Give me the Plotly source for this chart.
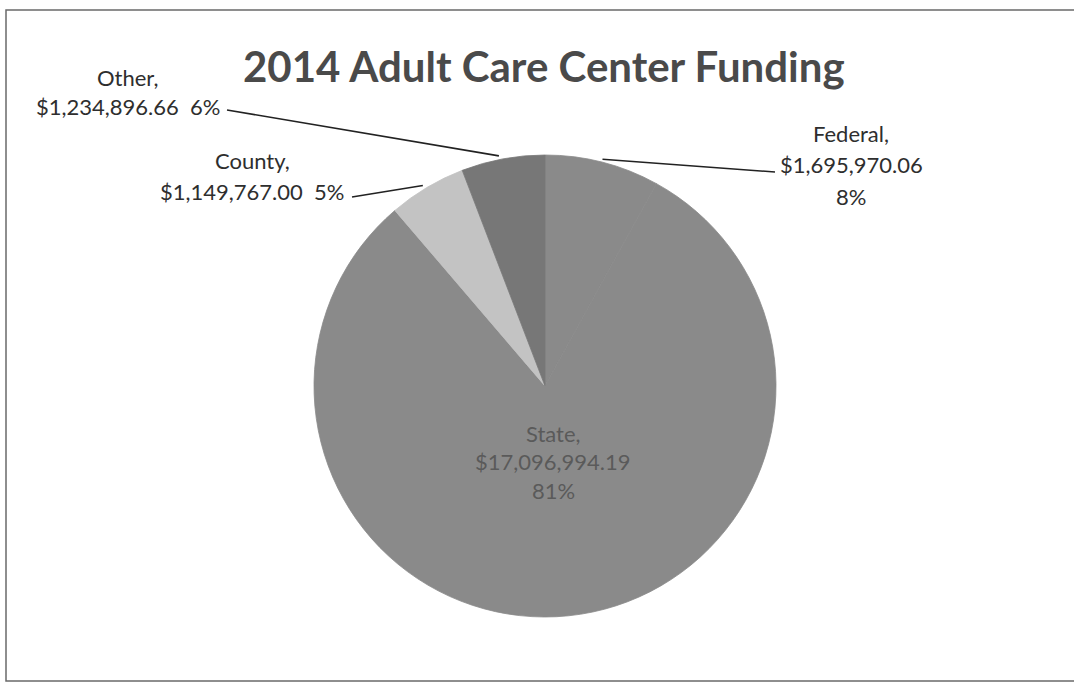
import math
import plotly.graph_objects as go

# ---- data ----
categories = ["Federal", "State", "County", "Other"]
amounts = [1695970.06, 17096994.19, 1149767.00, 1234896.66]
amount_labels = ["$1,695,970.06", "$17,096,994.19", "$1,149,767.00", "$1,234,896.66"]
pct_labels = ["8%", "81%", "5%", "6%"]
title_text = "2014 Adult Care Center Funding"

# ---- style ----
W, H = 1074, 683
colors = ["#8a8a8a", "#8a8a8a", "#c3c3c3", "#777777"]
txt_color = "#2e2e2e"
font_family = "Lato, 'Open Sans', sans-serif"

# pie geometry (pixels)
cx, cy, R = 545, 386, 231

def px(x):
    return x / W

def py(y):
    return 1 - y / H

fig = go.Figure(go.Pie(
    labels=categories,
    values=amounts,
    sort=False,
    direction="clockwise",
    rotation=0,
    marker=dict(colors=colors, line=dict(width=0.8, color=colors)),
    textinfo="none",
    hoverinfo="label+value+percent",
    showlegend=False,
    domain=dict(x=[px(cx - R), px(cx + R)], y=[py(cy + R), py(cy - R)]),
))

# edge points at slice mid-angles (computed from data)
total = sum(amounts)
edge = {}
cum = 0.0
for c, v in zip(categories, amounts):
    mid = (cum + v / 2) / total * 2 * math.pi
    edge[c] = (cx + R * math.sin(mid), cy - R * math.cos(mid))
    cum += v

annotations = []
def label(text, x, y, size=22, color=txt_color, xanchor="center"):
    annotations.append(dict(text=text, x=px(x), y=py(y), xref="paper", yref="paper",
                            showarrow=False, xanchor=xanchor, yanchor="middle",
                            font=dict(family=font_family, size=size, color=color)))

# title
annotations.append(dict(text="<b>" + title_text + "</b>", x=px(544), y=py(66), xref="paper", yref="paper",
                        showarrow=False, xanchor="center", yanchor="middle",
                        font=dict(family=font_family, size=42, color="#4a4a4a")))

# Other
label(categories[3] + ",", 127, 78)
label(amount_labels[3] + "  " + pct_labels[3], 128, 107)
# County
label(categories[2] + ",", 252, 160)
label(amount_labels[2] + "  " + pct_labels[2], 252, 191)
# Federal
label(categories[0] + ",", 851, 133)
label(amount_labels[0], 851, 164)
label(pct_labels[0], 851, 196)
# State (inside)
label(categories[1] + ",", 553, 433, color="#5a5a5a")
label(amount_labels[1], 553, 461, color="#5a5a5a")
label(pct_labels[1], 553, 490, color="#5a5a5a")

shapes = []
def leader(x0, y0, x1, y1):
    shapes.append(dict(type="line", xref="paper", yref="paper",
                       x0=px(x0), y0=py(y0), x1=px(x1), y1=py(y1),
                       line=dict(color="#222222", width=1.6)))

ox, oy = edge["Other"]
leader(227, 110, ox - 4, oy - 3)
kx, ky = edge["County"]
leader(352, 197, kx - 4, ky - 2)
fx, fy = edge["Federal"]
leader(fx, fy - 3, 775, 172)

# frame
shapes.append(dict(type="rect", xref="paper", yref="paper",
                   x0=px(6), x1=px(1080), y0=py(681), y1=py(10),
                   line=dict(color="#6a6a6a", width=1.5)))

fig.update_layout(
    width=W, height=H,
    margin=dict(l=0, r=0, t=0, b=0),
    paper_bgcolor="white",
    plot_bgcolor="white",
    annotations=annotations,
    shapes=shapes,
)

fig.write_html("out.html", config={"displayModeBar": False},
               post_script="document.body.style.margin='0';")
